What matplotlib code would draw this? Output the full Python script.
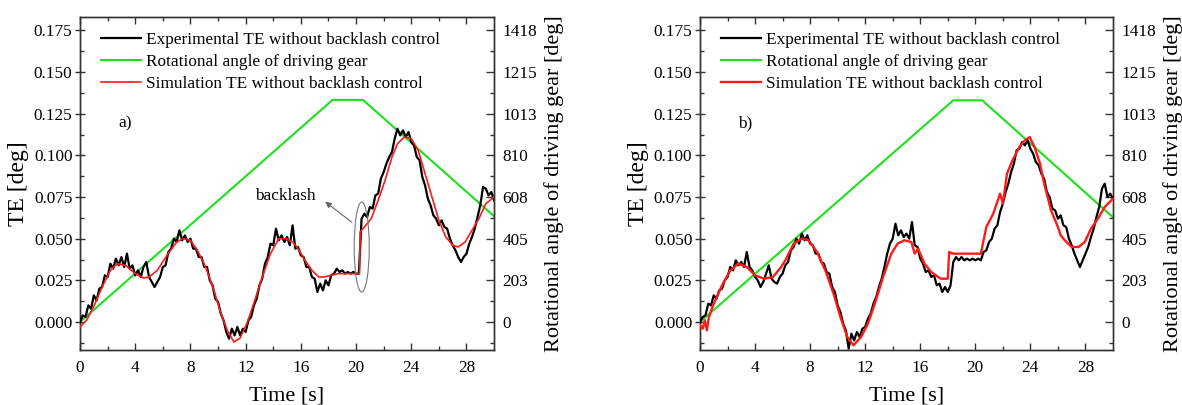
import numpy as np
import matplotlib
matplotlib.use("Agg")
import matplotlib.pyplot as plt
from matplotlib.patches import Ellipse

plt.rcParams['font.family'] = ['Liberation Serif', 'DejaVu Serif']

# TE axis <-> rotational angle axis scale (1418 deg at TE = 0.175)
ANG_SCALE = 1418 / 0.175
te_lim = (-0.0168, 0.183)
te_ticks = [0.000, 0.025, 0.050, 0.075, 0.100, 0.125, 0.150, 0.175]
ang_labels = ['0', '203', '405', '608', '810', '1013', '1215', '1418']
x_ticks = [0, 4, 8, 12, 16, 20, 24, 28]

# experimental TE, sampled every 0.2 s
t_exp = np.linspace(0, 30, 151)
te_exp_a = [
    0.000, 0.004, 0.003, 0.010, 0.008, 0.016, 0.013, 0.020, 0.021, 0.028,
    0.027, 0.035, 0.032, 0.038, 0.034, 0.039, 0.033, 0.041, 0.032, 0.034,
    0.028, 0.031, 0.027, 0.033, 0.036, 0.027, 0.024, 0.021, 0.024, 0.027,
    0.033, 0.034, 0.042, 0.044, 0.050, 0.048, 0.055, 0.049, 0.052, 0.048,
    0.050, 0.044, 0.044, 0.039, 0.039, 0.033, 0.033, 0.025, 0.022, 0.014,
    0.012, 0.005, 0.001, -0.006, -0.010, -0.004, -0.008, -0.003, -0.008, -0.004,
    -0.006, 0.001, 0.003, 0.010, 0.014, 0.022, 0.026, 0.035, 0.039, 0.047,
    0.046, 0.056, 0.049, 0.052, 0.048, 0.051, 0.046, 0.058, 0.044, 0.045,
    0.040, 0.039, 0.033, 0.033, 0.027, 0.026, 0.018, 0.023, 0.019, 0.025,
    0.022, 0.028, 0.029, 0.032, 0.030, 0.031, 0.029, 0.030, 0.029, 0.030,
    0.029, 0.029, 0.062, 0.065, 0.063, 0.069, 0.068, 0.076, 0.077, 0.086,
    0.090, 0.095, 0.099, 0.102, 0.110, 0.116, 0.112, 0.115, 0.111, 0.114,
    0.108, 0.106, 0.099, 0.097, 0.087, 0.082, 0.074, 0.070, 0.064, 0.062,
    0.058, 0.061, 0.057, 0.056, 0.050, 0.046, 0.043, 0.039, 0.036, 0.039,
    0.041, 0.047, 0.051, 0.056, 0.063, 0.070, 0.081, 0.080, 0.076, 0.078,
    0.073]
te_exp_b = [
    0.000, 0.003, 0.004, 0.011, 0.010, 0.016, 0.014, 0.019, 0.020, 0.025,
    0.027, 0.033, 0.031, 0.037, 0.034, 0.036, 0.033, 0.042, 0.033, 0.031,
    0.027, 0.025, 0.021, 0.024, 0.029, 0.034, 0.026, 0.024, 0.023, 0.027,
    0.029, 0.034, 0.036, 0.043, 0.045, 0.050, 0.047, 0.053, 0.049, 0.052,
    0.047, 0.046, 0.041, 0.041, 0.036, 0.035, 0.030, 0.029, 0.021, 0.018,
    0.010, 0.006, -0.001, -0.005, -0.016, -0.007, -0.011, -0.006, -0.009, -0.004,
    -0.003, 0.002, 0.005, 0.011, 0.015, 0.021, 0.026, 0.033, 0.041, 0.047,
    0.050, 0.059, 0.052, 0.055, 0.051, 0.053, 0.050, 0.060, 0.046, 0.045,
    0.038, 0.035, 0.030, 0.031, 0.027, 0.028, 0.022, 0.023, 0.018, 0.021,
    0.018, 0.022, 0.036, 0.039, 0.037, 0.039, 0.037, 0.038, 0.037, 0.038,
    0.037, 0.038, 0.037, 0.042, 0.043, 0.048, 0.050, 0.056, 0.058, 0.066,
    0.071, 0.078, 0.083, 0.090, 0.095, 0.103, 0.104, 0.108, 0.106, 0.109,
    0.104, 0.101, 0.096, 0.094, 0.089, 0.086, 0.078, 0.075, 0.068, 0.067,
    0.062, 0.064, 0.058, 0.057, 0.050, 0.046, 0.041, 0.037, 0.033, 0.037,
    0.041, 0.045, 0.051, 0.056, 0.063, 0.069, 0.080, 0.083, 0.075, 0.077,
    0.074]

# simulated TE
t_sim_a = [0, 0.5, 1.0, 1.6, 2.2, 2.7, 3.3, 4.0, 4.6, 5.0, 5.6, 6.3, 7.0, 7.5,
           8.0, 8.5, 9.1, 9.7, 10.2, 10.7, 11.15, 11.6, 12.1, 12.6, 13.2, 13.8,
           14.4, 14.9, 15.4, 15.8, 16.3, 16.8, 17.3, 17.7, 18.2, 18.7, 19.4,
           20.25, 20.3, 20.6, 21.1, 21.6, 22.1, 22.6, 23.0, 23.5, 24.0, 24.5,
           25.0, 25.5, 26.0, 26.5, 27.0, 27.4, 27.9, 28.4, 28.9, 29.4, 30.0]
te_sim_a = [-0.003, 0.0014, 0.0094, 0.021, 0.031, 0.035, 0.034, 0.029, 0.0264,
            0.027, 0.031, 0.040, 0.048, 0.050, 0.049, 0.043, 0.033, 0.019,
            0.0054, -0.0056, -0.012, -0.0096, -0.0006, 0.0114, 0.027, 0.041,
            0.050, 0.050, 0.048, 0.044, 0.037, 0.031, 0.027, 0.027, 0.028,
            0.029, 0.029, 0.029, 0.054, 0.057, 0.062, 0.073, 0.085, 0.099,
            0.107, 0.111, 0.110, 0.103, 0.089, 0.075, 0.061, 0.051, 0.046,
            0.045, 0.048, 0.055, 0.062, 0.071, 0.075]
t_sim_b = [0, 0.2, 0.35, 0.5, 0.65, 1.0, 1.6, 2.2, 2.8, 3.4, 4.0, 4.65, 5.3,
           5.9, 6.2, 6.8, 7.4, 7.9, 8.5, 9.1, 9.7, 10.2, 10.7, 11.15, 11.7,
           12.2, 12.7, 13.3, 13.9, 14.35, 14.85, 15.35, 15.6, 15.85, 16.3,
           16.8, 17.3, 17.5, 18.0, 18.1, 18.4, 19.2, 20.4, 20.8, 21.3, 21.8,
           22.0, 22.3, 22.7, 23.2, 23.6, 23.95, 24.3, 24.7, 25.0, 25.5, 26.0,
           26.2, 26.5, 27.0, 27.5, 27.95, 28.4, 28.9, 29.4, 30.0]
te_sim_b = [-0.002, -0.004, 0.001, -0.005, 0.003, 0.011, 0.022, 0.031, 0.035,
            0.033, 0.028, 0.026, 0.027, 0.033, 0.037, 0.047, 0.050, 0.049,
            0.042, 0.031, 0.017, 0.003, -0.009, -0.014, -0.009, -0.001, 0.011,
            0.027, 0.041, 0.047, 0.049, 0.048, 0.041, 0.044, 0.035, 0.030,
            0.027, 0.026, 0.026, 0.042, 0.041, 0.041, 0.041, 0.057, 0.065,
            0.077, 0.071, 0.089, 0.097, 0.105, 0.109, 0.111, 0.105, 0.095,
            0.083, 0.067, 0.057, 0.052, 0.049, 0.045, 0.045, 0.048, 0.056,
            0.062, 0.069, 0.074]

# rotational angle of driving gear [deg]
t_ang_a = [0, 18.3, 20.5, 30]
ang_a = [0, 1080, 1080, 514]
t_ang_b = [0, 18.4, 20.5, 30]
ang_b = [0, 1078, 1078, 509]

GREEN = '#1ee01e'
RED = '#ff1a1a'
label_exp = 'Experimental TE without backlash control'
label_ang = 'Rotational angle of driving gear'
label_sim = 'Simulation TE without backlash control'
FS = 12.4

fig = plt.figure(figsize=(11.82, 4.05), dpi=100)
ax_a = fig.add_axes([0.0677, 0.1358, 0.3503, 0.8222])
ax_b = fig.add_axes([0.5922, 0.1358, 0.3494, 0.8222])

panels = [
    (ax_a, te_exp_a, t_sim_a, te_sim_a, t_ang_a, ang_a, 'a)', 1.2),
    (ax_b, te_exp_b, t_sim_b, te_sim_b, t_ang_b, ang_b, 'b)', 1.7),
]

for ax, te_exp, t_sim, te_sim, t_ang, ang, tag, red_lw in panels:
    ax2 = ax.twinx()
    h_exp, = ax.plot(t_exp, te_exp, color='black', lw=1.6, zorder=3)
    h_ang, = ax2.plot(t_ang, ang, color=GREEN, lw=1.5)
    h_sim, = ax.plot(t_sim, te_sim, color=RED, lw=red_lw, zorder=4)
    ax.set_zorder(ax2.get_zorder() + 1)
    ax.patch.set_visible(False)

    ax.set_xlim(0, 30)
    ax.set_ylim(*te_lim)
    ax2.set_ylim(te_lim[0] * ANG_SCALE, te_lim[1] * ANG_SCALE)

    ax.set_xticks(x_ticks)
    ax.set_xticks(np.arange(2, 30, 4), minor=True)
    ax.set_yticks(te_ticks)
    ax.set_yticklabels(['%.3f' % v for v in te_ticks])
    ax.set_yticks(np.arange(-0.0125, 0.18, 0.025), minor=True)
    ax2.set_yticks([v * ANG_SCALE for v in te_ticks])
    ax2.set_yticklabels(ang_labels)
    ax2.set_yticks([v * ANG_SCALE for v in np.arange(-0.0125, 0.18, 0.025)],
                   minor=True)

    ax.tick_params(axis='x', which='both', direction='in', top=True,
                   labelsize=FS, pad=7, width=1, color='#333333')
    ax.tick_params(axis='x', which='major', length=5)
    ax.tick_params(axis='x', which='minor', length=3)
    ax.tick_params(axis='y', which='major', direction='inout', length=7,
                   labelsize=FS, pad=2, width=1, color='#333333')
    ax.tick_params(axis='y', which='minor', direction='in', length=3,
                   width=1, color='#333333')
    ax2.tick_params(axis='y', which='major', direction='in', length=6,
                    labelsize=FS, pad=6, width=1, color='#333333')
    ax2.tick_params(axis='y', which='minor', direction='in', length=3,
                    width=1, color='#333333')
    for sp in list(ax.spines.values()) + list(ax2.spines.values()):
        sp.set_linewidth(1.0)
        sp.set_color('#333333')

    ax.set_xlabel('Time [s]', fontsize=16, labelpad=8)
    ax.set_ylabel('TE [deg]', fontsize=17, labelpad=3)
    ax2.set_ylabel('Rotational angle of driving gear [deg]', fontsize=16,
                   labelpad=5)

    ax.text(3.3, 0.119, tag, fontsize=FS, ha='center', va='center')
    ax.legend([h_exp, h_ang, h_sim], [label_exp, label_ang, label_sim],
              loc='upper left', bbox_to_anchor=(0.025, 0.987), frameon=False,
              fontsize=FS, handlelength=2.35, handletextpad=0.3,
              labelspacing=0.36, borderaxespad=0.2)

# backlash marker on panel a
ax_a.add_patch(Ellipse((20.41, 0.045), 1.09, 0.054, fill=False,
                       edgecolor='#777777', lw=0.8, zorder=5))
ax_a.annotate('', xy=(17.6, 0.0732), xytext=(19.86, 0.0588),
              arrowprops=dict(arrowstyle='-|>', color='#666666', lw=0.8,
                              mutation_scale=9))
ax_a.text(14.9, 0.0755, 'backlash', fontsize=FS, ha='center', va='center')

fig.savefig('out.png', dpi=100)
